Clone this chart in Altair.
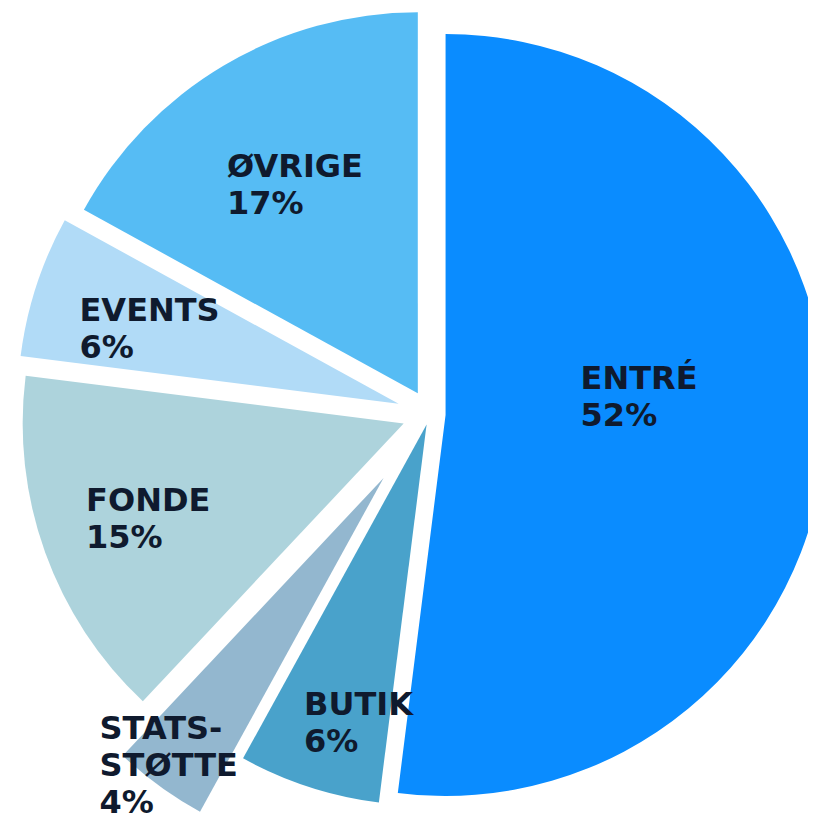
import altair as alt

# ---- data ----
categories = ["ENTRÉ", "BUTIK", "STATS-STØTTE", "FONDE", "EVENTS", "ØVRIGE"]
shares = [52, 6, 4, 15, 6, 17]
label_names = ["ENTRÉ", "BUTIK", "STATS-\nSTØTTE", "FONDE", "EVENTS", "ØVRIGE"]

# ---- style ----
colors = ["#0a8cff", "#49a2cb", "#93b7cf", "#add3dc", "#b1dbf7", "#56bcf4"]
explode = [15.6, 11, 79, 28, 33, 24]          # radial offset of each slice (px)
label_dist = [192, 305, 359, 278, 263, 243]   # label distance from slice tip (px)
label_frac = [0.45, 0.25, 0.58, 0.5, 0.44, 0.5]  # label angle as fraction of slice span

W, H = 800, 821
CX, CY, R = 422, 406, 381
FS, LH = 32, 37
TEXT_COLOR = "#0f1a2e"

records = []
for i, (c, v, n) in enumerate(zip(categories, shares, label_names)):
    lines = n.split("\n") + [f"{v}%"]
    records.append({
        "order": i,
        "category": c,
        "share": v,
        "lines": lines,
        "nlines": len(lines),
        "maxlen": max(len(s) for s in lines),
        "explode": explode[i],
        "ldist": label_dist[i],
        "lfrac": label_frac[i],
    })

base = (
    alt.Chart(alt.Data(values=records))
    .transform_joinaggregate(total="sum(share)")
    .transform_window(cum="sum(share)", sort=[alt.SortField("order")], frame=[None, 0])
    .transform_calculate(a0="2*PI*(datum.cum - datum.share)/datum.total")
    .transform_calculate(a1="2*PI*datum.cum/datum.total")
    .transform_calculate(amid="(datum.a0 + datum.a1)/2")
    .transform_calculate(alab="datum.a0 + datum.lfrac*(datum.a1 - datum.a0)")
    .transform_calculate(cx=f"{CX} + datum.explode*sin(datum.amid)")
    .transform_calculate(cy=f"{CY} - datum.explode*cos(datum.amid)")
    .transform_calculate(
        lx=f"datum.cx + datum.ldist*sin(datum.alab) - datum.maxlen*{0.35 * FS}"
    )
    .transform_calculate(
        ly=f"datum.cy - datum.ldist*cos(datum.alab) - (datum.nlines - 1)*{LH / 2} + {0.36 * FS}"
    )
)

arcs = base.mark_arc(outerRadius=R, innerRadius=0).encode(
    theta=alt.Theta("a0:Q", scale=None),
    theta2=alt.Theta2("a1:Q"),
    x=alt.X("cx:Q", scale=None, axis=None),
    y=alt.Y("cy:Q", scale=None, axis=None),
    color=alt.Color(
        "category:N",
        scale=alt.Scale(domain=categories, range=colors),
        legend=None,
    ),
)

labels = base.mark_text(
    align="left",
    baseline="alphabetic",
    font="DejaVu Sans",
    fontSize=FS,
    fontWeight="bold",
    lineHeight=LH,
    color=TEXT_COLOR,
).encode(
    x=alt.X("lx:Q", scale=None, axis=None),
    y=alt.Y("ly:Q", scale=None, axis=None),
    text=alt.Text("lines:N"),
)

chart = (
    alt.layer(arcs, labels)
    .properties(width=W, height=H, padding=0, autosize=alt.AutoSizeParams(type="none"),
                background="white")
    .configure_view(strokeWidth=0)
)

chart.save("out.html", embed_options={"renderer": "svg", "actions": False})
